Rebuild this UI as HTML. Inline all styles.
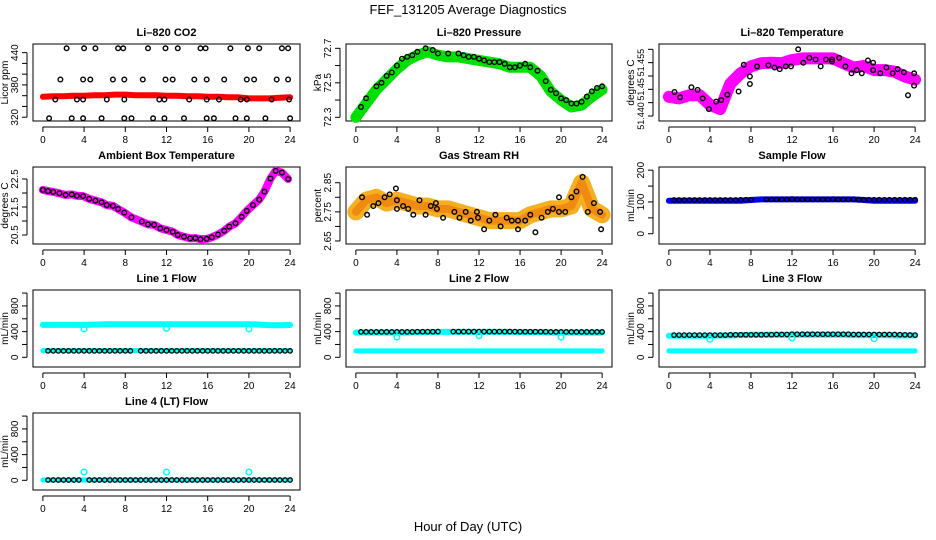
<!DOCTYPE html>
<html><head><meta charset="utf-8"><style>
html,body{margin:0;padding:0;background:#fff;}
svg{display:block;font-family:"Liberation Sans",Arial,sans-serif;}
</style></head><body>
<svg id="chart" width="936" height="540" viewBox="0 0 936 540" xmlns="http://www.w3.org/2000/svg">
<rect x="0" y="0" width="936" height="540" fill="#fff"/>
<text x="468" y="14" text-anchor="middle" font-size="13">FEF_131205  Average Diagnostics</text>
<text x="468" y="531" text-anchor="middle" font-size="13">Hour of Day (UTC)</text>
</svg>
<script>
// ---------- DATA ----------
const H25 = [0,1,2,3,4,5,6,7,8,9,10,11,12,13,14,15,16,17,18,19,20,21,22,23,24];
const T48 = [0.5,1,1.5,2,2.5,3,3.5,4,4.5,5,5.5,6,6.5,7,7.5,8,8.5,9,9.5,10,10.5,11,11.5,12,12.5,13,13.5,14,14.5,15,15.5,16,16.5,17,17.5,18,18.5,19,19.5,20,20.5,21,21.5,22,22.5,23,23.5,24];
const xTicks = [0,4,8,12,16,20,24];

// CO2
const co2Band = [358,359,359,360,360,361,361,362,362,361,361,361,360,360,359,359,358,358,357,357,355,355,355,356,357];
const co2HiT = [2.3,4.0,5.1,7.3,7.8,10.2,11.9,13.1,15.3,15.8,18.2,19.9,21.0,23.2,23.8];
const co2HiV = [448,448,448,448,448,448,448,448,448,448,448,448,448,448,448];
const co2MidT = [1.7,3.9,4.6,6.8,7.9,9.7,11.9,12.6,14.7,15.9,17.6,19.8,20.5,22.7,23.8];
const co2MidV = [390,390,390,390,390,390,390,390,390,390,390,390,390,390,390];
const co2LowT = [1.2,3.3,3.9,6.2,7.9,11.3,11.8,14.2,15.9,17.1,19.2,19.8,22.2,23.9];
const co2LowV = [353,353,353,353,353,353,353,353,353,353,353,353,353,353];
const co2MinT = [0.6,2.8,3.9,5.7,7.9,8.6,10.7,11.8,13.7,15.9,16.6,18.7,19.8,21.6,24.0];
const co2MinV = [318,318,318,318,318,318,318,318,318,318,318,318,318,318,318];

// Pressure
const presBand = [72.30,72.38,72.46,72.52,72.58,72.63,72.66,72.68,72.66,72.65,72.65,72.64,72.63,72.62,72.61,72.59,72.59,72.59,72.54,72.45,72.40,72.36,72.37,72.42,72.46];
const presT = [0.5,1,2,2.5,3,3.5,4,4.5,5,5.5,6,6.8,7.5,8,9,10,10.5,11,11.5,12,12.5,13,13.5,14,14.5,15,15.5,16,16.5,17,17.7,18.5,19,19.5,20,20.5,21,21.5,22,22.5,23,23.5,24];
const presV = [72.36,72.41,72.48,72.50,72.54,72.56,72.60,72.64,72.65,72.66,72.68,72.70,72.69,72.67,72.67,72.67,72.66,72.65,72.65,72.64,72.63,72.62,72.62,72.62,72.61,72.59,72.59,72.60,72.61,72.59,72.57,72.51,72.46,72.44,72.41,72.40,72.38,72.38,72.39,72.42,72.45,72.47,72.48];

// Li-820 Temperature
const tempBand = [51.4436,51.4433,51.4439,51.4439,51.4421,51.4413,51.4461,51.4480,51.4493,51.4499,51.4500,51.4499,51.4505,51.4508,51.4508,51.4508,51.4508,51.4499,51.4491,51.4494,51.4486,51.4486,51.4483,51.4474,51.4468];
const tempT = [0.55,1.1,2.2,2.8,3.3,3.9,4.6,5.1,5.7,6.8,7.3,7.9,7.9,8.6,9.7,10.3,10.8,11.4,11.9,12.6,13.1,13.7,14.3,14.8,15.3,15.9,15.9,16.6,17.2,17.8,18.3,18.8,19.4,19.9,19.9,20.6,21.2,21.8,22.3,22.9,23.3,23.9,23.9];
const tempV = [51.4445,51.4435,51.4454,51.4449,51.4433,51.4413,51.4427,51.4430,51.4440,51.4446,51.4496,51.4474,51.4460,51.4493,51.4495,51.4491,51.4488,51.4493,51.4493,51.4525,51.4500,51.4509,51.4506,51.4493,51.4506,51.4506,51.4502,51.4509,51.4493,51.4480,51.4486,51.4480,51.4504,51.4500,51.4486,51.4480,51.4491,51.4480,51.4488,51.4482,51.4439,51.4480,51.4457];

// Ambient Box Temperature
const ambT = [0,0.5,1,1.6,2.2,2.8,3.3,3.9,4.5,5.1,5.7,6.2,6.8,7.3,7.9,8.6,9.6,10.2,10.8,11.4,12,12.6,13.1,13.7,14.3,14.8,15.3,15.9,16.4,17,17.6,18.1,18.7,19.3,19.8,20.4,21,21.5,22.1,22.6,23.2,23.8];
const ambV = [22.11,22.07,22.04,21.99,21.93,21.95,21.90,21.89,21.79,21.73,21.67,21.57,21.54,21.43,21.30,21.13,20.98,20.88,20.86,20.74,20.68,20.62,20.50,20.44,20.38,20.39,20.35,20.36,20.42,20.52,20.65,20.80,20.92,21.15,21.36,21.57,21.77,22.05,22.52,22.79,22.73,22.50];

// Gas Stream RH
const rhBand = [2.75,2.79,2.80,2.78,2.79,2.78,2.77,2.77,2.76,2.76,2.75,2.74,2.73,2.72,2.72,2.72,2.72,2.74,2.75,2.76,2.76,2.77,2.85,2.76,2.74];
const rhT = [0.6,1.1,1.7,2.2,2.8,3.3,3.9,4.0,4.0,4.6,5.1,5.6,6.2,6.8,7.3,7.8,7.9,8.5,9.6,10.1,10.7,11.2,11.8,11.9,12.5,13.0,13.6,14.1,14.7,15.2,15.8,15.8,16.5,17.0,17.5,18.1,18.7,19.2,19.8,19.8,20.4,21.0,21.5,22.1,22.6,23.2,23.8,23.9];
const rhV = [2.80,2.74,2.77,2.78,2.80,2.81,2.83,2.79,2.76,2.77,2.76,2.74,2.79,2.74,2.77,2.78,2.76,2.73,2.75,2.73,2.75,2.72,2.75,2.73,2.69,2.72,2.74,2.70,2.73,2.72,2.72,2.69,2.72,2.74,2.68,2.73,2.75,2.76,2.80,2.75,2.75,2.80,2.82,2.87,2.75,2.78,2.75,2.69];

// Sample Flow
const sfBand = [104,104,104,104,104,104,104,104,106,108,108,108,108,108,108,108,108,108,108,106,104,104,104,104,104];
const sfBlack = [106,106,106,106,106,106,106,106,106,106,106,106,106,107,107,107,null,null,108,108,108,108,108,109,108,108,108,108,108,108,108,109,108,108,108,108,107,107,107,107,107,107,107,107,107,107,107,107];

// Line flows
const l1Upper = [505,505,505,505,505,510,515,515,515,515,515,515,515,515,515,515,515,515,515,515,515,510,500,500,505];
const l1Lower = [105,105,105,105,105,105,105,105,105,105,105,105,105,105,105,105,105,105,105,105,105,105,105,105,105];
const l1Black = [100,100,100,100,100,100,100,100,100,100,100,100,100,100,100,100,100,null,100,100,100,100,100,100,100,100,100,100,100,100,100,100,100,100,100,100,100,100,100,100,100,100,100,100,100,100,100,100];
const l1DipV = [440,450,440];
const l2Upper = [385,385,385,385,385,385,390,390,395,395,395,395,395,395,395,395,390,390,390,385,385,385,385,385,385];
const l2Lower = [100,100,100,100,100,100,100,100,100,100,100,100,100,100,100,100,100,100,100,100,100,100,100,100,100];
const l2Black = [395,395,395,395,395,395,395,395,395,395,395,398,398,398,398,400,null,null,400,400,400,400,400,400,400,400,400,400,400,400,400,398,398,398,398,398,398,395,395,395,395,395,395,395,395,395,395,395];
const l2DipV = [315,335,315];
const l3Upper = [335,335,335,335,335,340,340,345,350,350,350,350,350,350,350,350,350,350,345,345,345,345,340,340,340];
const l3Lower = [100,100,100,100,100,100,100,100,100,100,100,100,100,100,100,100,100,100,100,100,100,100,100,100,100];
const l3Black = [345,345,345,345,345,345,345,345,345,345,345,350,350,350,350,350,350,350,352,352,355,355,355,360,360,360,360,360,360,360,360,360,360,360,360,355,355,355,355,355,355,355,355,355,352,350,348,345];
const l3DipV = [280,300,290];
const l4Cyan = [5,5,5,5,5,5,5,5,5,5,5,5,5,5,5,5,5,5,5,5,5,5,5,5,5];
const l4Black = [5,5,5,5,5,5,5,null,5,5,5,5,5,5,5,5,5,5,5,5,5,5,5,5,5,5,5,5,5,5,5,5,5,5,5,5,5,5,5,5,5,5,5,5,5,5,5,5];
const l4DipV = [130,130,130];
const dipT = [4,12,20];

// ---------- DRAWING ----------
const svg = document.getElementById('chart');
const NS = 'http://www.w3.org/2000/svg';
function mk(tag, attrs, name, parent) {
  const el = document.createElementNS(NS, tag);
  for (const k in attrs) el.setAttribute(k, attrs[k]);
  
  
  (parent || svg).appendChild(el);
  return el;
}
function panel(o) {
  const g = mk('g', {}, o.id + '-panel');
  const sx = v => o.x0 + (v + 0.96) / 25.92 * (o.x1 - o.x0);
  const sy = v => o.y1 - (v - o.ylo) / (o.yhi - o.ylo) * (o.y1 - o.y0);
  mk('rect', {x:o.x0, y:o.y0, width:o.x1-o.x0, height:o.y1-o.y0, fill:'none', stroke:'#000', 'stroke-width':1}, o.id + '-plot-box', g);
  const t = mk('text', {x:(o.x0+o.x1)/2, y:o.y0-8, 'text-anchor':'middle', 'font-size':11, 'font-weight':'bold'}, o.id + '-title', g);
  t.textContent = o.title;
  const ax = mk('g', {}, o.id + '-x-axis', g);
  const yb = o.y1 + 6;
  mk('line', {x1:sx(0), x2:sx(24), y1:yb, y2:yb, stroke:'#000'}, 'x-axis-line', ax);
  xTicks.forEach(v => {
    mk('line', {x1:sx(v), x2:sx(v), y1:yb, y2:yb+5, stroke:'#000'}, 'x-tick', ax);
    const tl = mk('text', {x:sx(v), y:yb+16, 'text-anchor':'middle', 'font-size':10}, 'x-tick-label', ax);
    tl.textContent = v;
  });
  const ay = mk('g', {}, o.id + '-y-axis', g);
  const xl = o.x0 - 6;
  mk('line', {x1:xl, x2:xl, y1:sy(o.yt[0]), y2:sy(o.yt[o.yt.length-1]), stroke:'#000'}, 'y-axis-line', ay);
  o.yt.forEach(v => {
    mk('line', {x1:xl-5, x2:xl, y1:sy(v), y2:sy(v), stroke:'#000'}, 'y-tick', ay);
  });
  o.yl.forEach((v, i) => {
    const tx = xl - 9, ty = sy(v);
    const tl = mk('text', {x:tx, y:ty, 'text-anchor':'middle', 'font-size':o.yfs || 10, transform:'rotate(-90 '+tx+' '+ty+')'}, 'y-tick-label', ay);
    tl.textContent = o.ylt ? o.ylt[i] : v;
  });
  const yx = o.x0 - 25, yy = (o.y0 + o.y1) / 2;
  const yt = mk('text', {x:yx, y:yy, 'text-anchor':'middle', 'font-size':10, transform:'rotate(-90 '+yx+' '+yy+')'}, o.id + '-y-axis-title', g);
  yt.textContent = o.ylab;
  return {g, sx, sy};
}
function band(p, xs, ys, color, w, name) {
  const pts = xs.map((x, i) => p.sx(x).toFixed(1) + ',' + p.sy(ys[i]).toFixed(1)).join(' ');
  mk('polyline', {points:pts, fill:'none', stroke:color, 'stroke-width':w, 'stroke-linecap':'round', 'stroke-linejoin':'round'}, name, p.g);
}
function pts(p, xs, ys, color, r, sw, name) {
  const gg = mk('g', {}, name, p.g);
  xs.forEach((x, i) => {
    if (ys[i] === null) return;
    mk('circle', {cx:p.sx(x).toFixed(1), cy:p.sy(ys[i]).toFixed(1), r:r, fill:'none', stroke:color, 'stroke-width':sw}, 'point', gg);
  });
}
const C1 = [33,300], C2 = [346,612], C3 = [659,925];
const R1 = [44,121], R2 = [167,244], R3 = [290,367], R4 = [413,490];

let p = panel({id:'co2', x0:C1[0], x1:C1[1], y0:R1[0], y1:R1[1], ylo:313, yhi:456, yt:[320,340,360,380,400,420,440], yl:[320,380,440], title:'Li\u2013820 CO2', ylab:'Licor ppm'});
band(p, H25, co2Band, '#ff0000', 6, 'co2-red-series');
pts(p, co2HiT, co2HiV, '#000', 2.3, 1.4, 'co2-black-high');
pts(p, co2MidT, co2MidV, '#000', 2.3, 1.4, 'co2-black-mid');
pts(p, co2LowT, co2LowV, '#000', 2.3, 1.4, 'co2-black-low');
pts(p, co2MinT, co2MinV, '#000', 2.3, 1.4, 'co2-black-min');

p = panel({id:'pressure', x0:C2[0], x1:C2[1], y0:R1[0], y1:R1[1], ylo:72.2786, yhi:72.725, yt:[72.3,72.4,72.5,72.6,72.7], yl:[72.3,72.5,72.7], title:'Li\u2013820 Pressure', ylab:'kPa'});
band(p, H25, presBand, '#00e000', 11, 'pressure-green-series');
pts(p, presT, presV, '#000', 2.3, 1.4, 'pressure-black-series');

p = panel({id:'li820-temp', x0:C3[0], x1:C3[1], y0:R1[0], y1:R1[1], ylo:51.43906, yhi:51.4535, yt:[51.440,51.4425,51.445,51.4475,51.450,51.4525], yl:[51.440,51.445,51.450], ylt:['51.440','51.45','51.455'], yfs:9, title:'Li\u2013820 Temperature', ylab:'degrees C'});
band(p, H25, tempBand, '#ff00ff', 12, 'temp-magenta-series');
pts(p, H25, tempBand, '#ff00ff', 3, 1.5, 'temp-magenta-points');
pts(p, tempT, tempV, '#000', 2.3, 1.4, 'temp-black-series');

p = panel({id:'ambient', x0:C1[0], x1:C1[1], y0:R2[0], y1:R2[1], ylo:20.179, yhi:22.929, yt:[20.5,21,21.5,22,22.5], yl:[20.5,21.5,22.5], title:'Ambient Box Temperature', ylab:'degrees C'});
band(p, ambT, ambV, '#ff00ff', 8, 'ambient-magenta-series');
pts(p, ambT, ambV, '#000', 2.3, 1.4, 'ambient-black-series');

p = panel({id:'rh', x0:C2[0], x1:C2[1], y0:R2[0], y1:R2[1], ylo:2.6397, yhi:2.9039, yt:[2.65,2.70,2.75,2.80,2.85], yl:[2.65,2.75,2.85], title:'Gas Stream RH', ylab:'percent'});
band(p, H25, rhBand, '#f4b020', 17, 'rh-orange-series');
band(p, H25, rhBand, '#f08a10', 8, 'rh-orange-core');
pts(p, rhT, rhV, '#000', 2.3, 1.4, 'rh-black-series');

p = panel({id:'sample-flow', x0:C3[0], x1:C3[1], y0:R2[0], y1:R2[1], ylo:-32.3, yhi:210, yt:[0,50,100,150,200], yl:[0,100,200], title:'Sample Flow', ylab:'mL/min'});
band(p, H25, sfBand, '#0000ff', 6, 'sample-blue-series');
pts(p, T48, sfBlack, '#000', 2.2, 1.3, 'sample-black-series');

const flowTicks = [0,200,400,600,800,1000], flowLabels = [0,400,800];
p = panel({id:'line1', x0:C1[0], x1:C1[1], y0:R3[0], y1:R3[1], ylo:-151, yhi:1048, yt:flowTicks, yl:flowLabels, title:'Line 1 Flow', ylab:'mL/min'});
band(p, H25, l1Upper, '#00ffff', 6, 'line1-cyan-upper');
band(p, H25, l1Lower, '#00ffff', 5, 'line1-cyan-lower');
pts(p, T48, l1Black, '#000', 2.2, 1.3, 'line1-black-series');
pts(p, dipT, l1DipV, '#00ffff', 2.8, 1.5, 'line1-cyan-dips');

p = panel({id:'line2', x0:C2[0], x1:C2[1], y0:R3[0], y1:R3[1], ylo:-151, yhi:1048, yt:flowTicks, yl:flowLabels, title:'Line 2 Flow', ylab:'mL/min'});
band(p, H25, l2Upper, '#00ffff', 6, 'line2-cyan-upper');
band(p, H25, l2Lower, '#00ffff', 5, 'line2-cyan-lower');
pts(p, T48, l2Black, '#000', 2.2, 1.3, 'line2-black-series');
pts(p, dipT, l2DipV, '#00ffff', 2.8, 1.5, 'line2-cyan-dips');

p = panel({id:'line3', x0:C3[0], x1:C3[1], y0:R3[0], y1:R3[1], ylo:-151, yhi:1048, yt:flowTicks, yl:flowLabels, title:'Line 3 Flow', ylab:'mL/min'});
band(p, H25, l3Upper, '#00ffff', 6, 'line3-cyan-upper');
band(p, H25, l3Lower, '#00ffff', 5, 'line3-cyan-lower');
pts(p, T48, l3Black, '#000', 2.2, 1.3, 'line3-black-series');
pts(p, dipT, l3DipV, '#00ffff', 2.8, 1.5, 'line3-cyan-dips');

p = panel({id:'line4', x0:C1[0], x1:C1[1], y0:R4[0], y1:R4[1], ylo:-151, yhi:1048, yt:flowTicks, yl:flowLabels, title:'Line 4 (LT) Flow', ylab:'mL/min'});
band(p, H25, l4Cyan, '#00ffff', 5, 'line4-cyan-series');
pts(p, T48, l4Black, '#000', 2.2, 1.3, 'line4-black-series');
pts(p, dipT, l4DipV, '#00ffff', 2.8, 1.5, 'line4-cyan-bumps');
</script>
</body></html>
